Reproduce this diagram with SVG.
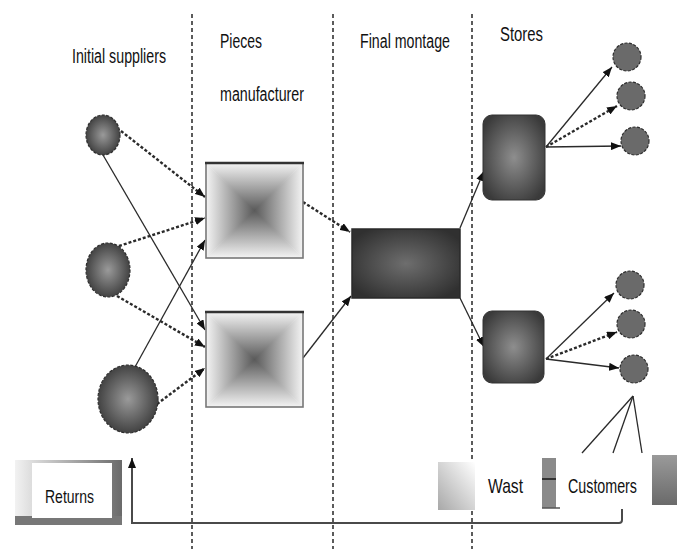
<svg xmlns="http://www.w3.org/2000/svg" width="683" height="549" viewBox="0 0 683 549">
  <defs>
    <style>
      .lbl { font-family: "Liberation Sans", Arial, sans-serif; fill: #111; }
      .lane { stroke: #333; stroke-width: 1.6; stroke-dasharray: 4 3; fill: none; }
      .solid { stroke: #2a2a2a; stroke-width: 1.3; fill: none; }
      .dash { stroke: #2a2a2a; stroke-width: 2.4; stroke-dasharray: 3 2; fill: none; }
      .ret { stroke: #4a4a4a; stroke-width: 2; fill: none; }
      .sup { stroke: #2e2e2e; stroke-width: 1.2; stroke-dasharray: 3 1.5; }
      .cus { fill: #6a6a6a; stroke: #2e2e2e; stroke-width: 1.2; stroke-dasharray: 3 1.5; }
      .pieceEdge { fill: none; stroke: #777; stroke-width: 1.6; }
      .pieceTop { stroke: #333; stroke-width: 2.6; }
      .seam { stroke: #b0b0b0; stroke-width: 0.8; }
    </style>
    <marker id="head" viewBox="0 0 10 8" refX="10" refY="4" markerWidth="10" markerHeight="8" markerUnits="userSpaceOnUse" orient="auto">
      <path d="M0,0 L10,4 L0,8 z" fill="#111"/>
    </marker>
    <radialGradient id="ball" cx="0.5" cy="0.5" r="0.55">
      <stop offset="0" stop-color="#9a9a9a"/>
      <stop offset="1" stop-color="#3a3a3a"/>
    </radialGradient>
    <radialGradient id="store" cx="0.5" cy="0.5" r="0.6">
      <stop offset="0" stop-color="#8e8e8e"/>
      <stop offset="1" stop-color="#3a3a3a"/>
    </radialGradient>
    <radialGradient id="assembly" cx="0.5" cy="0.5" r="0.6">
      <stop offset="0" stop-color="#6e6e6e"/>
      <stop offset="1" stop-color="#303030"/>
    </radialGradient>
    <!-- four-sided pyramid shading for the pieces boxes -->
    <linearGradient id="pyrDown" x1="0" y1="0" x2="0" y2="1">
      <stop offset="0" stop-color="#f4f4f4"/>
      <stop offset="1" stop-color="#5a5a5a"/>
    </linearGradient>
    <linearGradient id="pyrUp" x1="0" y1="1" x2="0" y2="0">
      <stop offset="0" stop-color="#f4f4f4"/>
      <stop offset="1" stop-color="#5a5a5a"/>
    </linearGradient>
    <linearGradient id="pyrRight" x1="0" y1="0" x2="1" y2="0">
      <stop offset="0" stop-color="#f4f4f4"/>
      <stop offset="1" stop-color="#5a5a5a"/>
    </linearGradient>
    <linearGradient id="pyrLeft" x1="1" y1="0" x2="0" y2="0">
      <stop offset="0" stop-color="#f4f4f4"/>
      <stop offset="1" stop-color="#5a5a5a"/>
    </linearGradient>
    <radialGradient id="pyrBase" cx="0.5" cy="0.5" r="0.6">
      <stop offset="0" stop-color="#5a5a5a"/>
      <stop offset="1" stop-color="#f4f4f4"/>
    </radialGradient>
    <linearGradient id="frameSide" x1="0" y1="0" x2="1" y2="0">
      <stop offset="0" stop-color="#f2f2f2"/>
      <stop offset="1" stop-color="#6a6a6a"/>
    </linearGradient>
    <linearGradient id="wastSquare" x1="1" y1="0" x2="0" y2="1">
      <stop offset="0" stop-color="#ffffff"/>
      <stop offset="1" stop-color="#a8a8a8"/>
    </linearGradient>
    <linearGradient id="rightSquare" x1="0" y1="0" x2="0" y2="1">
      <stop offset="0" stop-color="#9a9a9a"/>
      <stop offset="1" stop-color="#6a6a6a"/>
    </linearGradient>
  </defs>

  <rect width="683" height="549" fill="#ffffff"/>

  <!-- stage separators -->
  <g id="lanes">
    <line class="lane" x1="192" y1="14" x2="192" y2="549"/>
    <line class="lane" x1="333" y1="14" x2="333" y2="549"/>
    <line class="lane" x1="472" y1="14" x2="472" y2="549"/>
  </g>

  <!-- stage headings -->
  <g id="headings">
    <text class="lbl" x="72" y="63" font-size="20" textLength="94" lengthAdjust="spacingAndGlyphs">Initial suppliers</text>
    <text class="lbl" x="220" y="48" font-size="20" textLength="42" lengthAdjust="spacingAndGlyphs">Pieces</text>
    <text class="lbl" x="220" y="101" font-size="20" textLength="84" lengthAdjust="spacingAndGlyphs">manufacturer</text>
    <text class="lbl" x="360" y="48" font-size="20" textLength="90" lengthAdjust="spacingAndGlyphs">Final montage</text>
    <text class="lbl" x="500" y="41" font-size="20" textLength="43" lengthAdjust="spacingAndGlyphs">Stores</text>
  </g>

  <!-- connectors -->
  <g id="connectors">
    <line class="dash" x1="121" y1="131" x2="205" y2="197" marker-end="url(#head)"/>
    <line class="solid" x1="103" y1="155" x2="205" y2="330" marker-end="url(#head)"/>
    <line class="dash" x1="119" y1="246" x2="205" y2="218" marker-end="url(#head)"/>
    <line class="dash" x1="117" y1="296" x2="205" y2="347" marker-end="url(#head)"/>
    <line class="solid" x1="135" y1="367" x2="205" y2="240" marker-end="url(#head)"/>
    <line class="dash" x1="157" y1="404" x2="205" y2="368" marker-end="url(#head)"/>

    <line class="dash" x1="303" y1="202" x2="350" y2="232" marker-end="url(#head)"/>
    <line class="solid" x1="303" y1="358" x2="351" y2="296" marker-end="url(#head)"/>

    <line class="solid" x1="460" y1="228" x2="484" y2="171" marker-end="url(#head)"/>
    <line class="solid" x1="460" y1="298" x2="484" y2="347" marker-end="url(#head)"/>

    <line class="solid" x1="546" y1="147" x2="612" y2="67" marker-end="url(#head)"/>
    <line class="dash" x1="546" y1="147" x2="617" y2="106" marker-end="url(#head)"/>
    <line class="solid" x1="546" y1="147" x2="621" y2="146" marker-end="url(#head)"/>

    <line class="solid" x1="546" y1="359" x2="614" y2="293" marker-end="url(#head)"/>
    <line class="dash" x1="546" y1="359" x2="617" y2="332" marker-end="url(#head)"/>
    <line class="solid" x1="546" y1="359" x2="619" y2="368" marker-end="url(#head)"/>

    <line class="solid" x1="633" y1="396" x2="582" y2="453"/>
    <line class="solid" x1="633" y1="396" x2="613" y2="453"/>
    <line class="solid" x1="633" y1="396" x2="642" y2="453"/>

    <path class="ret" d="M622,509 L622,520 Q622,523 619,523 L132,523 L132,458" marker-end="url(#head)"/>
  </g>

  <!-- initial suppliers -->
  <g id="supplier-1"><ellipse class="sup" cx="103" cy="135" rx="17" ry="20" fill="url(#ball)"/></g>
  <g id="supplier-2"><ellipse class="sup" cx="108" cy="270" rx="22" ry="27" fill="url(#ball)"/></g>
  <g id="supplier-3"><ellipse class="sup" cx="128" cy="399" rx="30" ry="34" fill="url(#ball)"/></g>

  <!-- pieces manufacturers -->
  <g id="pieces-1">
    <rect x="206" y="163" width="97" height="95" fill="url(#pyrBase)"/>
    <polygon points="206,163 303,163 254.5,210.5" fill="url(#pyrDown)"/>
    <polygon points="206,258 303,258 254.5,210.5" fill="url(#pyrUp)"/>
    <polygon points="206,163 206,258 254.5,210.5" fill="url(#pyrRight)"/>
    <polygon points="303,163 303,258 254.5,210.5" fill="url(#pyrLeft)"/>
    <rect class="pieceEdge" x="206" y="163" width="97" height="95"/>
    <line class="pieceTop" x1="205" y1="163" x2="304" y2="163"/>
  </g>
  <g id="pieces-2">
    <rect x="206" y="312" width="97" height="95" fill="url(#pyrBase)"/>
    <polygon points="206,312 303,312 254.5,359.5" fill="url(#pyrDown)"/>
    <polygon points="206,407 303,407 254.5,359.5" fill="url(#pyrUp)"/>
    <polygon points="206,312 206,407 254.5,359.5" fill="url(#pyrRight)"/>
    <polygon points="303,312 303,407 254.5,359.5" fill="url(#pyrLeft)"/>
    <rect class="pieceEdge" x="206" y="312" width="97" height="95"/>
    <line class="pieceTop" x1="205" y1="312" x2="304" y2="312"/>
  </g>

  <!-- final montage -->
  <g id="final-montage">
    <rect x="352" y="229" width="108" height="69" fill="url(#assembly)" stroke="#2a2a2a" stroke-width="1.5"/>
  </g>

  <!-- stores -->
  <g id="store-1"><rect x="483" y="115" width="62" height="85" rx="9" fill="url(#store)" stroke="#333" stroke-width="1"/></g>
  <g id="store-2"><rect x="483" y="311" width="61" height="72" rx="9" fill="url(#store)" stroke="#333" stroke-width="1"/></g>

  <!-- customers -->
  <g id="customer-1"><circle class="cus" cx="627" cy="57" r="14"/></g>
  <g id="customer-2"><circle class="cus" cx="631" cy="96" r="14"/></g>
  <g id="customer-3"><circle class="cus" cx="635" cy="141" r="14"/></g>
  <g id="customer-4"><circle class="cus" cx="630" cy="285" r="14"/></g>
  <g id="customer-5"><circle class="cus" cx="631" cy="324" r="14"/></g>
  <g id="customer-6"><circle class="cus" cx="634" cy="369" r="14"/></g>

  <!-- returns box -->
  <g id="returns">
    <rect x="15" y="460" width="107" height="65" fill="url(#frameSide)"/>
    <rect x="15" y="516" width="107" height="9" fill="#777"/>
    <rect x="32" y="463" width="80" height="55" fill="#ffffff"/>
    <text class="lbl" x="45" y="503" font-size="19" textLength="49" lengthAdjust="spacingAndGlyphs">Returns</text>
  </g>

  <!-- waste -->
  <g id="wast">
    <rect x="438" y="462" width="37" height="48" fill="url(#wastSquare)"/>
    <text class="lbl" x="488" y="493" font-size="21" textLength="35" lengthAdjust="spacingAndGlyphs">Wast</text>
  </g>

  <!-- customers block -->
  <g id="customers">
    <rect x="542" y="458" width="14" height="50" fill="#8a8a8a"/>
    <line x1="542" y1="479" x2="556" y2="479" stroke="#333" stroke-width="2"/>
    <line x1="542" y1="508" x2="560" y2="508" stroke="#555" stroke-width="1.5"/>
    <rect x="652" y="455" width="25" height="50" fill="url(#rightSquare)"/>
    <text class="lbl" x="568" y="493" font-size="21" textLength="69" lengthAdjust="spacingAndGlyphs">Customers</text>
  </g>
</svg>
